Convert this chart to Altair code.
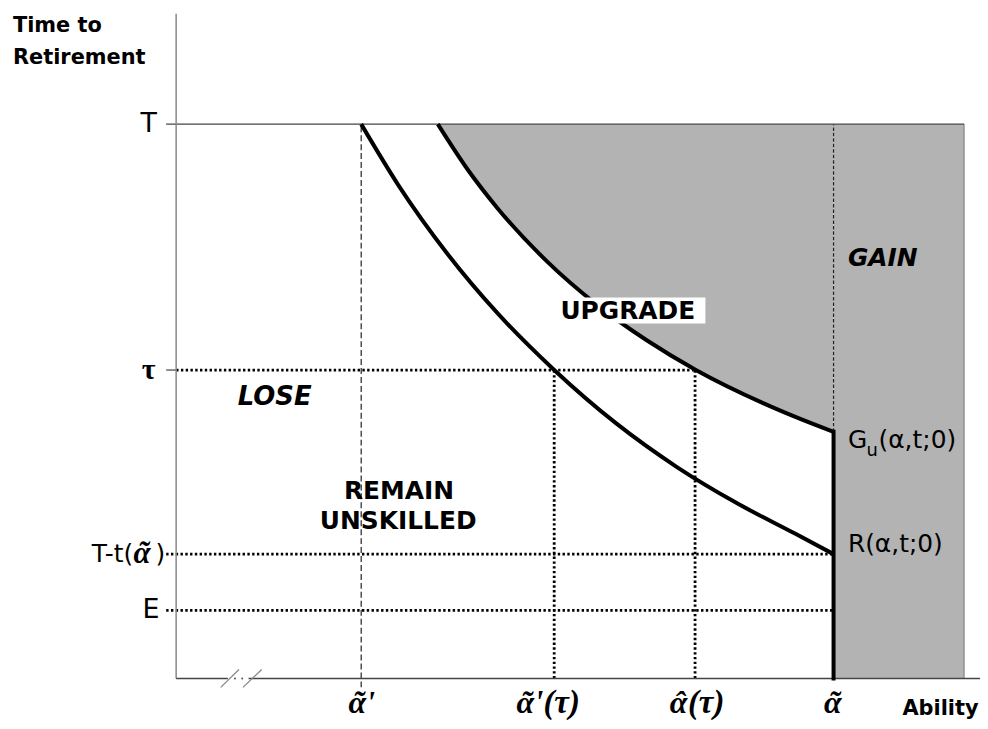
import altair as alt
import pandas as pd

# ---- key levels of the schematic (arbitrary units) ----
T_LEVEL = 83.4          # T
TAU = 46.4              # tau
T_MINUS_T = 18.7        # T - t(alpha~)
E_LEVEL = 10.25         # E
ALPHA_PRIME = 23.25     # alpha~'
ALPHA_PRIME_TAU = 47.5  # alpha~'(tau)
ALPHA_HAT_TAU = 65.2    # alpha^(tau)
ALPHA_TILDE = 82.6      # alpha~
ABILITY_MAX = 99.0      # right edge of shaded region
GU_END = 37.1           # G_u(alpha~, t; 0)

# R(alpha,t;0) curve
r_x = [23.25, 27.875, 34.125, 40.375, 47.5, 55.375, 62.875, 70.375, 77.875, 82.6]
r_y = [83.4, 74.31, 63.83, 54.96, 46.41, 38.29, 31.84, 26.42, 21.71, 18.7]
# G_u(alpha,t;0) curve
gu_x = [32.875, 36.625, 40.375, 46.625, 52.875, 59.125, 65.3, 73.75, 77.875, 82.6]
gu_y = [83.4, 76.57, 70.75, 62.71, 56.21, 50.88, 46.41, 41.42, 39.31, 37.1]

XS = alt.Scale(domain=[0, 101], nice=False, zero=False)
YS = alt.Scale(domain=[0, 100], nice=False, zero=False)


def segs(rows, **kw):
    df = pd.DataFrame(rows, columns=["x", "x2", "y", "y2"])
    return alt.Chart(df).mark_rule(**kw).encode(
        x=alt.X("x:Q", scale=XS, axis=None),
        x2="x2:Q",
        y=alt.Y("y:Q", scale=YS, axis=None),
        y2="y2:Q",
    )


def label(text, x, y, **kw):
    df = pd.DataFrame({"x": [x], "y": [y], "t": [text]})
    kw.setdefault("color", "black")
    return alt.Chart(df).mark_text(**kw).encode(
        x=alt.X("x:Q", scale=XS, axis=None),
        y=alt.Y("y:Q", scale=YS, axis=None),
        text="t:N",
    )


GRAY = "#b3b3b3"

# shaded GAIN region
gu_df = pd.DataFrame({"x": gu_x, "y": gu_y, "y2": [T_LEVEL] * len(gu_x)})
gain_area = alt.Chart(gu_df).mark_area(color=GRAY, interpolate="monotone").encode(
    x=alt.X("x:Q", scale=XS, axis=None),
    y=alt.Y("y:Q", scale=YS, axis=None),
    y2="y2:Q",
)
gain_rect = alt.Chart(pd.DataFrame({"x": [ALPHA_TILDE], "x2": [ABILITY_MAX], "y": [0], "y2": [T_LEVEL]})).mark_rect(color=GRAY).encode(
    x=alt.X("x:Q", scale=XS, axis=None), x2="x2:Q",
    y=alt.Y("y:Q", scale=YS, axis=None), y2="y2:Q",
)

dotted = segs([
    [0, ALPHA_HAT_TAU, TAU, TAU],
    [-1.25, ALPHA_TILDE, T_MINUS_T, T_MINUS_T],
    [-1.25, ALPHA_TILDE, E_LEVEL, E_LEVEL],
    [ALPHA_PRIME_TAU, ALPHA_PRIME_TAU, 0, TAU],
    [ALPHA_HAT_TAU, ALPHA_HAT_TAU, 0, TAU],
], color="black", strokeWidth=2.8, strokeDash=[2.4, 2.4])

dash1 = segs([[ALPHA_PRIME, ALPHA_PRIME, -1.35, T_LEVEL]], color="#222", strokeWidth=1.2, strokeDash=[6, 3])
dash2 = segs([[ALPHA_TILDE, ALPHA_TILDE, GU_END, T_LEVEL]], color="#222", strokeWidth=1.2, strokeDash=[3.5, 2])

t_line = segs([[-1.25, ABILITY_MAX, T_LEVEL, T_LEVEL]], color="#444", strokeWidth=1.3)
ticks = segs([[-1.25, 0, TAU, TAU]], color="#444", strokeWidth=1.2)
right_border = segs([[ABILITY_MAX, ABILITY_MAX, 0, T_LEVEL]], color="#777", strokeWidth=1)

y_axis = segs([[0, 0, 0, 100]], color="#888", strokeWidth=1.5)
x_axis = segs([[0, 6.5, 0, 0], [9.1, 101, 0, 0]], color="#444", strokeWidth=1.5)
breaks = segs([[5.6, 7.9, -1.35, 1.35], [8.4, 10.75, -1.35, 1.35]], color="#888", strokeWidth=1.3)
break_dots = alt.Chart(pd.DataFrame({"x": [7.4, 8.3], "y": [0, 0]})).mark_point(filled=True, size=4, color="#555", opacity=1).encode(
    x=alt.X("x:Q", scale=XS, axis=None), y=alt.Y("y:Q", scale=YS, axis=None)
)

r_line = alt.Chart(pd.DataFrame({"x": r_x, "y": r_y})).mark_line(color="black", strokeWidth=4, interpolate="monotone").encode(
    x=alt.X("x:Q", scale=XS, axis=None), y=alt.Y("y:Q", scale=YS, axis=None)
)
gu_line = alt.Chart(pd.DataFrame({"x": gu_x, "y": gu_y})).mark_line(color="black", strokeWidth=4, interpolate="monotone").encode(
    x=alt.X("x:Q", scale=XS, axis=None), y=alt.Y("y:Q", scale=YS, axis=None)
)
bold_vert = segs([[ALPHA_TILDE, ALPHA_TILDE, 0, GU_END]], color="black", strokeWidth=4, strokeCap="square")

upgrade_box = alt.Chart(pd.DataFrame({"x": [47.5], "x2": [66.5], "y": [53.4], "y2": [57.3]})).mark_rect(color="white").encode(
    x=alt.X("x:Q", scale=XS, axis=None), x2="x2:Q",
    y=alt.Y("y:Q", scale=YS, axis=None), y2="y2:Q",
)

SANS = "DejaVu Sans"
SERIF = "Liberation Serif"
MATH = dict(font=SERIF, fontWeight="bold", fontStyle="italic")
XLAB_Y = -5.24
TT_BASE = T_MINUS_T - 1.3

texts = [
    label("Time to", -20.5, 97.2, font=SANS, fontSize=21, fontWeight="bold", align="left", baseline="alphabetic"),
    label("Retirement", -20.5, 92.4, font=SANS, fontSize=21, fontWeight="bold", align="left", baseline="alphabetic"),
    label("Ability", 91.25, -5.54, font=SANS, fontSize=21, fontWeight="bold", align="left", baseline="alphabetic"),
    # y-axis level labels
    label("T", -2.4, T_LEVEL, font=SANS, fontSize=27, align="right", baseline="middle"),
    label("τ", -2.6, TAU, font=SERIF, fontSize=30, fontWeight="bold", align="right", baseline="middle"),
    label("T-t(", -5.4, T_MINUS_T, font=SANS, fontSize=25, align="right", baseline="middle"),
    label("α", -4.3, TT_BASE, fontSize=31, align="center", baseline="alphabetic", **MATH),
    label("˜", -4.15, TT_BASE, fontSize=31, align="center", baseline="alphabetic", **MATH),
    label(")", -2.6, T_MINUS_T, font=SANS, fontSize=25, align="left", baseline="middle"),
    label("E", -2.1, E_LEVEL, font=SANS, fontSize=27, align="right", baseline="middle"),
    # x-axis level labels
    label("α", 22.75, XLAB_Y, fontSize=32, align="center", baseline="alphabetic", **MATH),
    label("˜", 22.9, XLAB_Y, fontSize=32, align="center", baseline="alphabetic", **MATH),
    label("'", 23.9, XLAB_Y, fontSize=32, align="left", baseline="alphabetic", **MATH),
    label("α", 43.875, XLAB_Y, fontSize=32, align="center", baseline="alphabetic", **MATH),
    label("˜", 44.0, XLAB_Y, fontSize=32, align="center", baseline="alphabetic", **MATH),
    label("'(τ)", 45.0, XLAB_Y, fontSize=33, align="left", baseline="alphabetic", **MATH),
    label("α", 63.125, XLAB_Y, fontSize=32, align="center", baseline="alphabetic", **MATH),
    label("ˆ", 63.25, XLAB_Y, fontSize=32, align="center", baseline="alphabetic", **MATH),
    label("(τ)", 64.3, XLAB_Y, fontSize=33, align="left", baseline="alphabetic", **MATH),
    label("α", 82.5, XLAB_Y, fontSize=32, align="center", baseline="alphabetic", **MATH),
    label("˜", 82.65, XLAB_Y, fontSize=32, align="center", baseline="alphabetic", **MATH),
    # region labels
    label("GAIN", 84.4, 62.1, font=SANS, fontSize=25, fontWeight="bold", fontStyle="italic", align="left", baseline="alphabetic"),
    label("UPGRADE", 56.75, 54.1, font=SANS, fontSize=25, fontWeight="bold", align="center", baseline="alphabetic"),
    label("LOSE", 7.75, 41.2, font=SANS, fontSize=26, fontWeight="bold", fontStyle="italic", align="left", baseline="alphabetic"),
    label("REMAIN", 28.0, 26.95, font=SANS, fontSize=25, fontWeight="bold", align="center", baseline="alphabetic"),
    label("UNSKILLED", 27.9, 22.45, font=SANS, fontSize=25, fontWeight="bold", align="center", baseline="alphabetic"),
    # curve labels
    label("G", 84.4, 34.7, font=SANS, fontSize=25, align="left", baseline="alphabetic"),
    label("u", 86.75, 33.5, font=SANS, fontSize=18, align="left", baseline="alphabetic"),
    label("(α,t;0)", 88.25, 34.7, font=SANS, fontSize=25, align="left", baseline="alphabetic"),
    label("R(α,t;0)", 84.4, 19.0, font=SANS, fontSize=25, align="left", baseline="alphabetic"),
]

chart = alt.layer(
    gain_area, gain_rect, right_border,
    dotted, dash1, dash2, t_line, ticks,
    y_axis, x_axis, breaks, break_dots,
    r_line, gu_line, bold_vert, upgrade_box,
    *texts,
).properties(
    width=808,
    height=668,
    padding={"left": 169, "top": 4, "right": 0, "bottom": 45},
    autosize=alt.AutoSizeParams(type="none"),
).configure_view(stroke=None)

chart.save("out.html", embed_options={"renderer": "svg", "actions": False})
